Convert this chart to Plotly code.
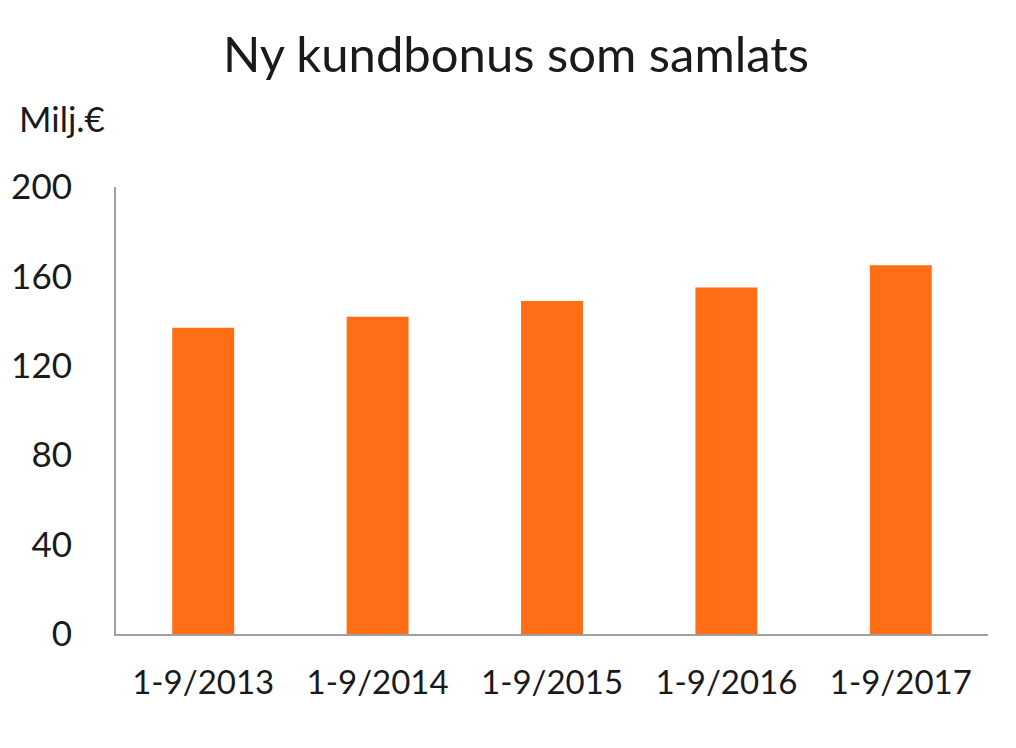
import plotly.graph_objects as go

# Ny kundbonus, milj. euro
periods = ['1-9/2013', '1-9/2014', '1-9/2015', '1-9/2016', '1-9/2017']
bonus = [137, 142, 149, 155, 165]
y_ticks = [0, 40, 80, 120, 160, 200]

font_name = 'Lato, Open Sans, sans-serif'
text_col = '#1a1a1a'
axis_col = '#a0a0a0'

fig = go.Figure()
fig.add_trace(go.Bar(x=periods, y=bonus, marker_color='#ff6d14', marker_line_width=0, width=0.355))

fig.update_layout(
    width=1016, height=748,
    paper_bgcolor='white', plot_bgcolor='white',
    margin=dict(l=108, r=36, t=179, b=122),
    font=dict(family=font_name, color=text_col),
    title=dict(text='Ny kundbonus som samlats', x=0.5, xanchor='center', y=0.937, yanchor='middle',
               font=dict(size=49, family=font_name, color=text_col)),
    showlegend=False,
    bargap=0.645,
)
fig.update_xaxes(showline=True, linecolor=axis_col, linewidth=2, showgrid=False, automargin=False,
                 ticks='outside', ticklen=18, tickcolor='rgba(0,0,0,0)',
                 tickfont=dict(size=33, family=font_name, color=text_col))
fig.update_yaxes(range=[0, 200], tickvals=y_ticks, showline=True, linecolor=axis_col, linewidth=2,
                 showgrid=False, zeroline=False, automargin=False,
                 ticks='outside', ticklen=35, tickcolor='rgba(0,0,0,0)',
                 tickfont=dict(size=35, family=font_name, color=text_col))
fig.add_annotation(text='Milj.€', xref='paper', yref='paper', x=-0.114, y=1.155,
                   xanchor='left', yanchor='middle', showarrow=False,
                   font=dict(size=35, family=font_name, color=text_col))

fig.write_html('out.html')
